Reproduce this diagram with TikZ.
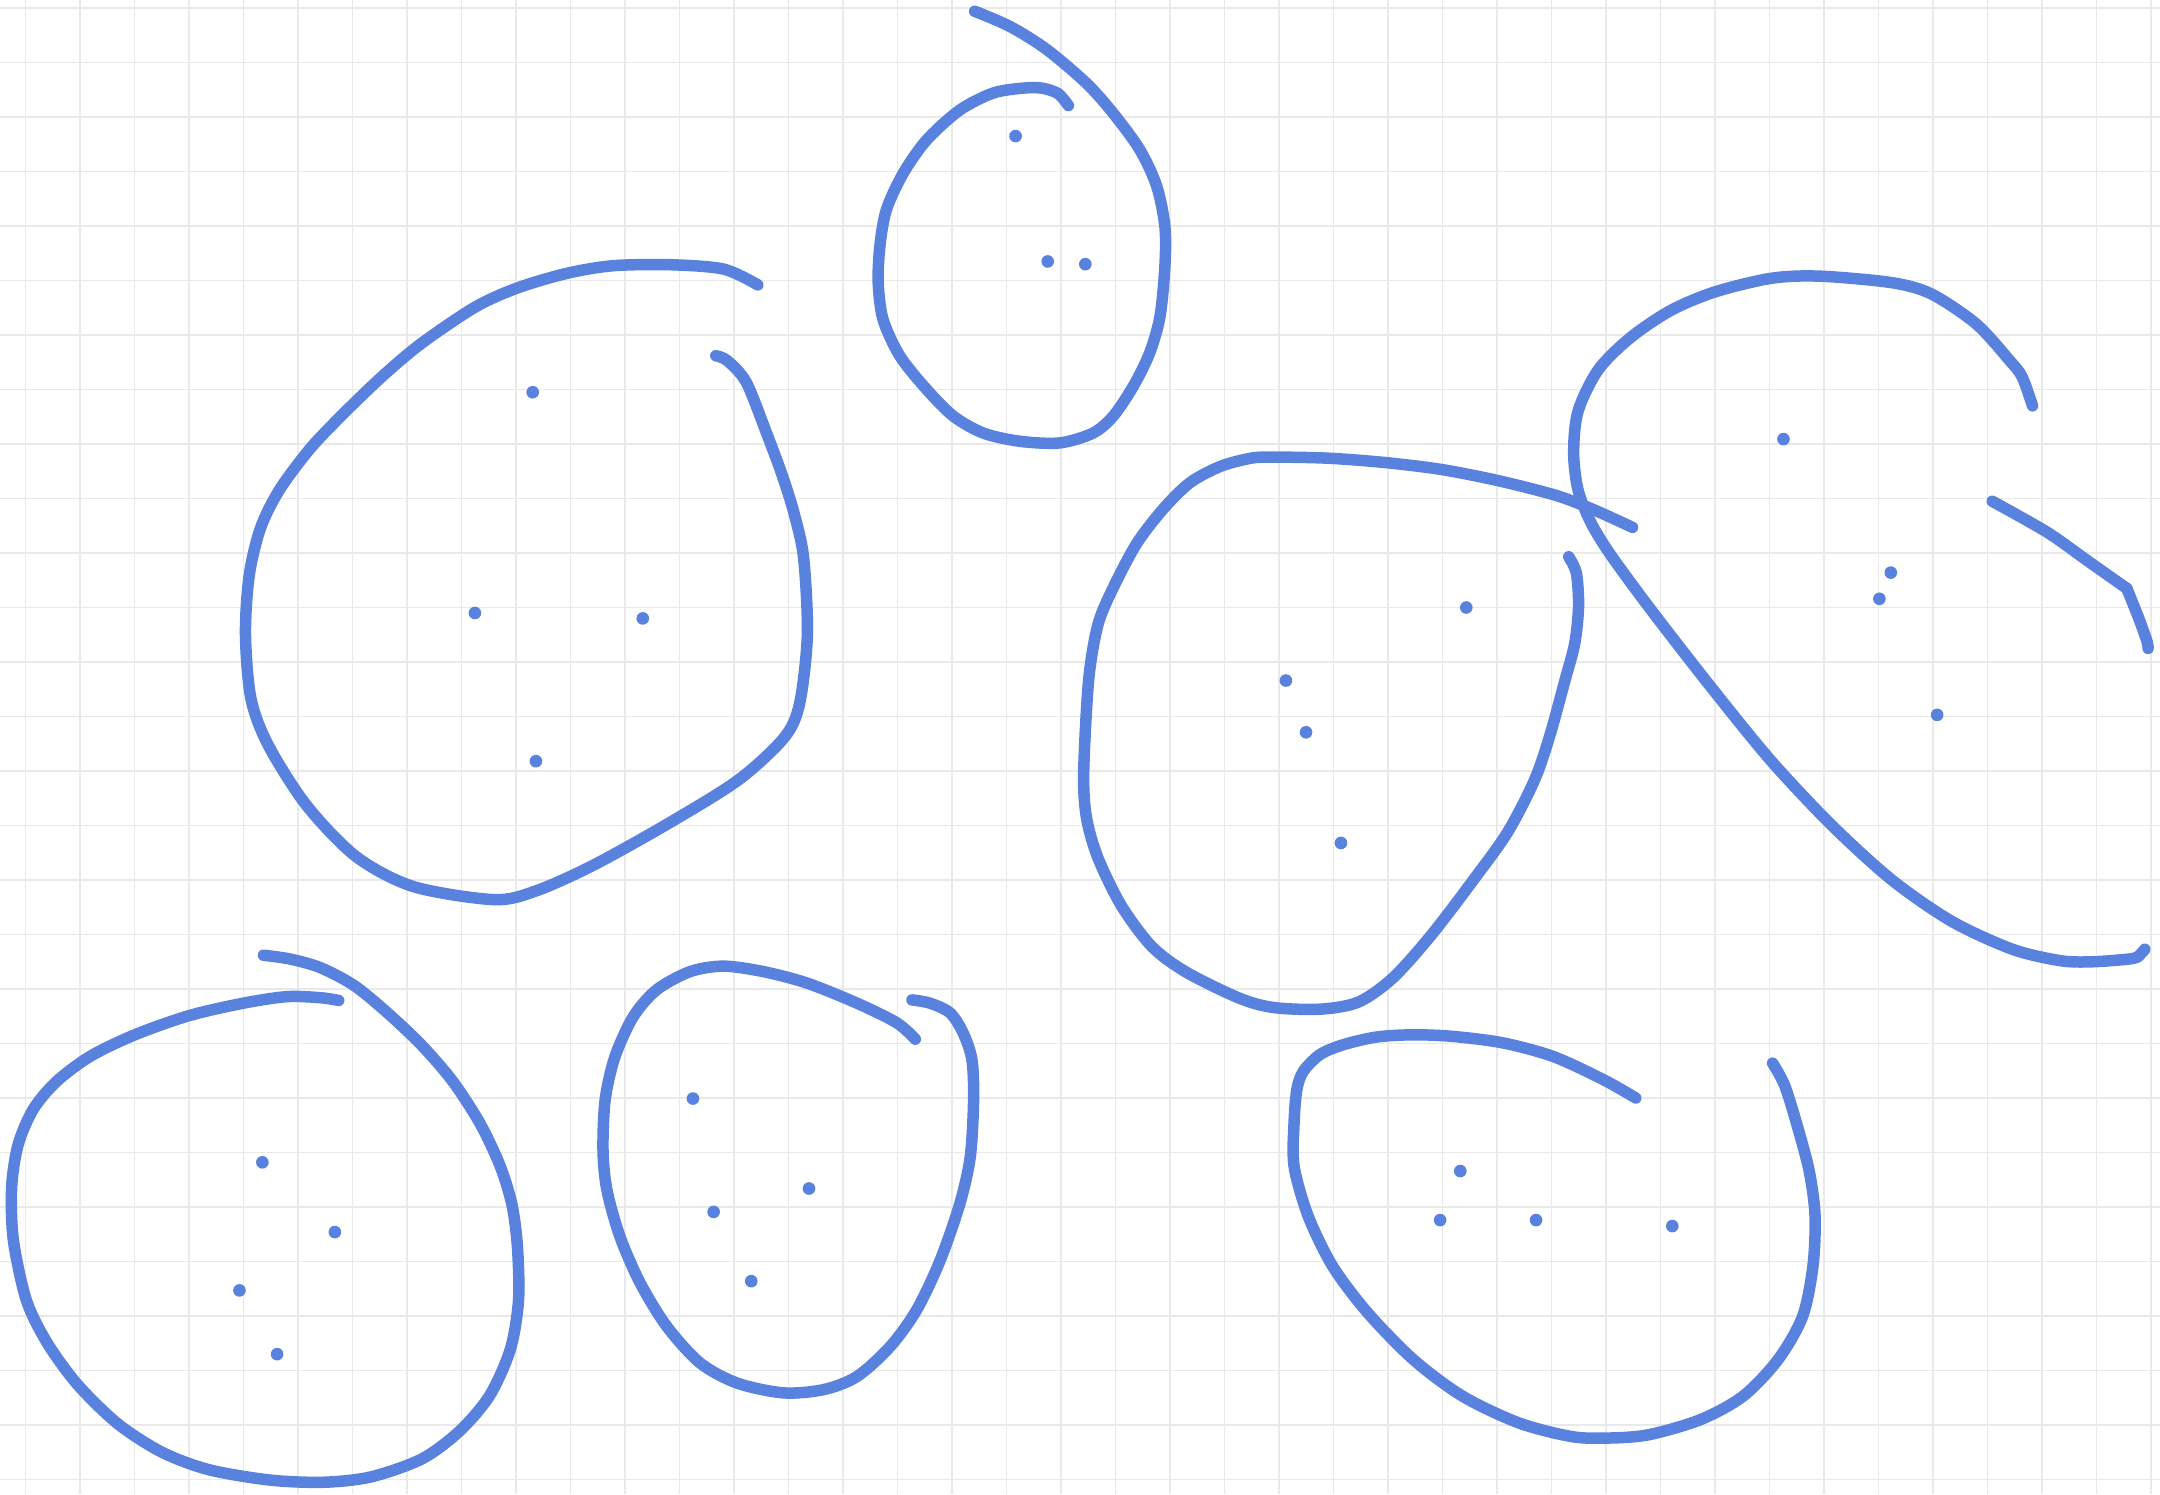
\documentclass[tikz,border=0pt]{standalone}
\begin{document}
\begin{tikzpicture}[x=0.5cm,y=-0.5cm,
  gridline/.style={draw={rgb,255:red,233;green,233;blue,233},line width=0.39pt},
  stroke/.style={draw={rgb,255:red,88;green,130;blue,221},line width=3pt,line cap=round,line join=round},
  dotmark/.style={fill={rgb,255:red,88;green,130;blue,221}}]
\fill[white] (-0.4642,-0.1468) rectangle (39.169,27.266);
\useasboundingbox (-0.4642,-0.1468) rectangle (39.169,27.266);
% grid
\foreach \i in {0,...,39} {\draw[gridline] (\i,-0.1468) -- (\i,27.266);}
\foreach \j in {0,...,27} {\draw[gridline] (-0.4642,\j) -- (39.169,\j);}
% blob A
\draw[stroke] plot[smooth] coordinates {(13.44,5.08) (12.81,4.79) (11.82,4.71) (10.77,4.73) (9.93,4.87) (9.02,5.14) (8.25,5.49) (7.26,6.16) (6.56,6.75) (5.86,7.42) (5.23,8.08) (4.67,8.83) (4.32,9.53) (4.11,10.40) (4.04,11.49) (4.14,12.67) (4.46,13.53) (5.16,14.63) (6.07,15.57) (7.12,16.12) (8.60,16.36) (9.37,16.20) (10.42,15.73) (11.82,14.95) (13.09,14.16) (13.93,13.38) (14.21,12.75) (14.35,11.49) (14.28,10.08) (14.10,9.25) (13.88,8.55) (13.62,7.85) (13.23,6.87) (12.88,6.47) (12.67,6.38)};
% blob B
\draw[stroke] plot[smooth] coordinates {(17.42,0.06) (18.07,0.34) (18.74,0.76) (19.47,1.38) (19.96,1.93) (20.45,2.60) (20.76,3.27) (20.91,4.01) (20.91,4.74) (20.82,5.66) (20.63,6.33) (20.33,6.94) (19.96,7.49) (19.59,7.80) (18.98,7.98) (18.25,7.95) (17.58,7.80) (17.03,7.49) (16.54,7.00) (16.05,6.39) (15.74,5.72) (15.65,5.05) (15.68,4.37) (15.80,3.70) (16.11,3.03) (16.54,2.42) (17.15,1.87) (17.76,1.56) (18.31,1.47) (18.65,1.47) (18.95,1.57) (19.14,1.79)};
% blob C
\draw[stroke] plot[smooth] coordinates {(36.83,7.30) (36.64,6.77) (36.42,6.48) (35.80,5.80) (34.98,5.25) (34.25,5.04) (32.92,4.92) (32.03,4.96) (31.00,5.21) (30.19,5.55) (29.45,6.05) (28.86,6.64) (28.49,7.40) (28.41,8.16) (28.49,8.84) (28.72,9.43) (29.08,10.02) (29.82,11.03) (30.93,12.46) (32.03,13.81) (33.14,14.99) (34.25,16.00) (35.35,16.76) (36.46,17.27) (37.34,17.48) (37.93,17.50) (38.67,17.44) (38.82,17.35) (38.89,17.27)};
\draw[stroke] plot[smooth] coordinates {(36.09,9.05) (37.10,9.62) (37.85,10.15) (38.56,10.65)};
\draw[stroke] plot[smooth] coordinates {(38.56,10.65) (38.78,11.20) (38.93,11.62) (38.95,11.75)};
% blob D
\draw[stroke] plot[smooth] coordinates {(29.49,9.53) (28.81,9.22) (28.11,8.95) (27.06,8.68) (26.00,8.47) (24.95,8.34) (23.90,8.26) (22.91,8.24) (22.49,8.26) (21.93,8.41) (21.37,8.71) (20.88,9.19) (20.39,9.83) (19.96,10.64) (19.68,11.32) (19.51,12.34) (19.42,14.03) (19.47,14.85) (19.68,15.59) (20.11,16.47) (20.67,17.22) (21.30,17.69) (22.28,18.17) (22.91,18.34) (23.76,18.37) (24.46,18.24) (25.09,17.80) (25.79,17.02) (26.57,16.00) (27.20,15.12) (27.69,14.17) (27.97,13.36) (28.25,12.34) (28.43,11.66) (28.50,10.98) (28.46,10.37) (28.32,10.07)};
% blob E
\draw[stroke] plot[smooth] coordinates {(5.75,18.21) (5.42,18.16) (4.80,18.14) (4.00,18.26) (3.00,18.49) (2.01,18.84) (1.20,19.23) (0.58,19.69) (0.15,20.20) (-0.13,20.85) (-0.25,21.63) (-0.22,22.60) (0.02,23.71) (0.40,24.49) (0.96,25.26) (1.70,25.98) (2.51,26.50) (3.37,26.82) (4.49,27.01) (5.48,27.05) (6.35,26.95) (7.28,26.62) (7.97,26.11) (8.52,25.46) (8.90,24.61) (9.05,23.71) (9.03,22.73) (8.93,21.96) (8.71,21.24) (8.34,20.46) (7.84,19.69) (7.28,19.04) (6.66,18.45) (6.04,17.94) (5.42,17.61) (4.86,17.45) (4.37,17.38)};
% blob F
\draw[stroke] plot[smooth] coordinates {(16.33,18.92) (15.99,18.62) (15.26,18.26) (14.34,17.89) (13.54,17.68) (12.81,17.58) (12.20,17.68) (11.59,18.01) (11.16,18.50) (10.82,19.24) (10.64,20.03) (10.60,20.95) (10.67,21.68) (10.91,22.54) (11.28,23.39) (11.77,24.19) (12.38,24.86) (13.06,25.23) (13.91,25.41) (14.65,25.35) (15.26,25.11) (15.87,24.56) (16.36,23.88) (16.79,22.97) (17.15,21.93) (17.34,21.07) (17.40,20.03) (17.37,19.30) (17.21,18.81) (16.97,18.44) (16.60,18.26) (16.27,18.20)};
% blob G
\draw[stroke] plot[smooth] coordinates {(29.55,20.00) (28.95,19.66) (28.04,19.24) (27.12,18.99) (26.20,18.87) (25.47,18.84) (24.80,18.88) (24.19,19.02) (23.76,19.20) (23.45,19.51) (23.33,19.85) (23.28,20.46) (23.28,21.25) (23.54,22.17) (23.99,23.09) (24.63,23.94) (25.47,24.80) (26.37,25.47) (27.40,25.96) (28.36,26.21) (29.01,26.24) (29.78,26.18) (30.74,25.90) (31.52,25.47) (32.16,24.80) (32.61,24.01) (32.80,23.09) (32.84,22.17) (32.74,21.38) (32.55,20.64) (32.29,19.79) (32.06,19.36)};
% dots
\foreach \p in {(9.31,7.05),(8.25,11.10),(11.33,11.20),(9.37,13.82),
  (18.17,2.35),(18.76,4.65),(19.45,4.70),
  (32.26,7.91),(34.23,10.36),(34.02,10.84),(35.08,12.97),
  (26.44,11.00),(23.13,12.34),(23.50,13.29),(24.14,15.32),
  (4.35,21.18),(5.68,22.46),(3.93,23.53),(4.62,24.70),
  (12.25,20.01),(14.38,21.66),(12.63,22.09),(13.32,23.36),
  (26.33,21.34),(25.96,22.24),(27.72,22.24),(30.22,22.35)}
  {\fill[dotmark] \p circle[radius=0.058cm];}
\end{tikzpicture}
\end{document}
